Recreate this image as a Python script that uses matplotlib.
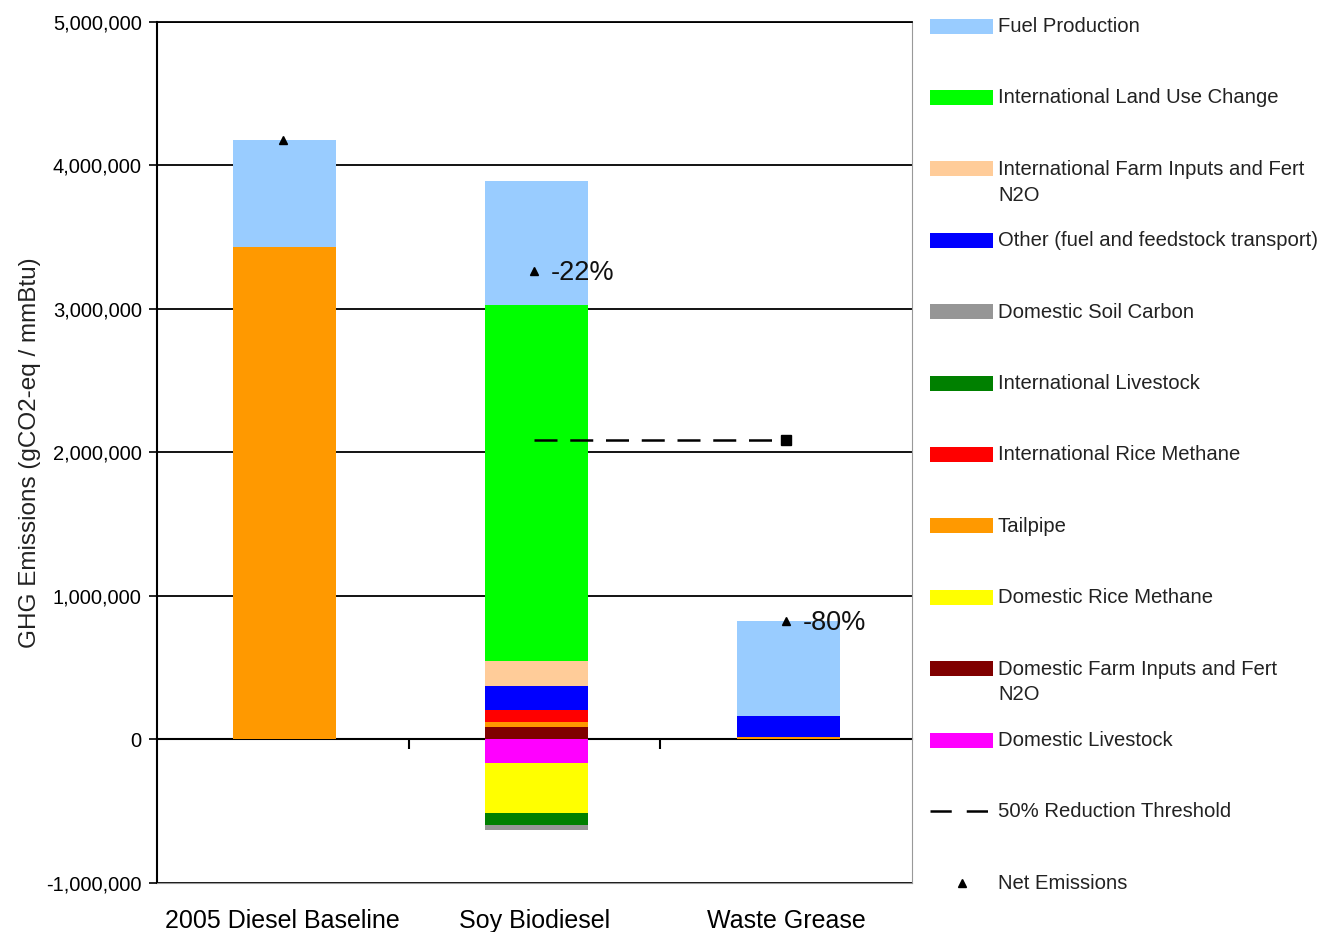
import numpy as np
import matplotlib
matplotlib.use("Agg")
import matplotlib.pyplot as plt
from matplotlib.patches import Rectangle
from matplotlib.lines import Line2D
from matplotlib.ticker import FuncFormatter

plt.rcParams['font.family'] = ['Liberation Sans', 'DejaVu Sans']

### data (gCO2-eq / mmBtu), series listed in stacking order
categories = ["2005 Diesel Baseline", "Soy Biodiesel", "Waste Grease"]
dom_livestock = [0, -162000, 0]
dom_farm = [0, 84000, 0]
dom_rice = [0, -350000, 0]
tailpipe = [3430000, 35000, 20000]
intl_rice = [0, 85000, 0]
intl_livestock = [0, -81000, 0]
dom_soil = [0, -35000, 0]
other = [0, 166000, 146000]
intl_farm = [0, 180000, 0]
intl_luc = [0, 2480000, 0]
fuel_prod = [745000, 864000, 662000]

series_names = ["Domestic Livestock", "Domestic Farm Inputs and Fert\nN2O",
                "Domestic Rice Methane", "Tailpipe", "International Rice Methane",
                "International Livestock", "Domestic Soil Carbon",
                "Other (fuel and feedstock transport)",
                "International Farm Inputs and Fert\nN2O",
                "International Land Use Change", "Fuel Production"]
series_vals = [dom_livestock, dom_farm, dom_rice, tailpipe, intl_rice,
               intl_livestock, dom_soil, other, intl_farm, intl_luc, fuel_prod]
series_cols = ["#FF00FF", "#800000", "#FFFF00", "#FF9900", "#FF0000",
               "#008000", "#969696", "#0000FF", "#FFCC99", "#00FF00", "#99CCFF"]

threshold_share = 0.5
yticks = [-1000000, 0, 1000000, 2000000, 3000000, 4000000, 5000000]

### chart
fig = plt.figure(figsize=(13.23, 9.32), dpi=100)
ax = fig.add_axes([0.11867, 0.05258, 0.57067, 0.92382])
x = np.arange(len(categories))
pos_bottom = np.zeros(len(categories))
neg_bottom = np.zeros(len(categories))
for vals, col in zip(series_vals, series_cols):
    v = np.array(vals, dtype=float)
    bottom = np.where(v >= 0, pos_bottom, neg_bottom)
    ax.bar(x + 0.008, v, width=0.41, bottom=bottom, color=col, zorder=3, linewidth=0)
    pos_bottom += np.where(v >= 0, v, 0)
    neg_bottom += np.where(v < 0, v, 0)

net = np.sum(np.array(series_vals, dtype=float), axis=0)
ax.plot(x, net, linestyle='none', marker='^', color='black', markersize=6, zorder=5)
for i in range(1, len(categories)):
    pct = net[i] / net[0] - 1
    ax.annotate("%d%%" % round(pct * 100), (x[i], net[i]), xytext=(12, -1.5),
                textcoords='offset points', va='center', ha='left', fontsize=19.5,
                color='#111111', zorder=6)

thr = threshold_share * net[0]
ax.plot(x[1:], [thr] * len(x[1:]), color='black', linestyle=(0, (9.2, 5.1)), linewidth=1.8,
        marker='s', markersize=6.5, markevery=[len(x[1:]) - 1], zorder=4)

ax.set_xlim(-0.5, 2.5)
ax.set_ylim(-1000000, 5000000)
ax.set_yticks(yticks)
ax.yaxis.set_major_formatter(FuncFormatter(lambda v, p: "{:,.0f}".format(v)))
ax.tick_params(axis='y', length=6, width=1.2, labelsize=14.5, pad=5, colors='black')
ax.set_xticks(x)
ax.set_xticklabels(categories, fontsize=18)
ax.tick_params(axis='x', length=0, pad=19)
ax.grid(axis='y', color='black', linewidth=1.3, zorder=1)
ax.set_axisbelow(True)
ax.set_ylabel("GHG Emissions (gCO2-eq / mmBtu)", fontsize=17.5, labelpad=4, color='#222222')
for s in ['right', 'bottom']:
    ax.spines[s].set_color('#999999')
ax.spines['top'].set_color('black')
ax.spines['top'].set_linewidth(1.3)
ax.spines['left'].set_color('black')
ax.spines['left'].set_linewidth(1.5)

# category axis drawn at zero
zero_frac = (0 - yticks[0]) / (yticks[-1] - yticks[0])
sec = ax.secondary_xaxis(zero_frac)
sec.set_xticks([0.5, 1.5])
sec.set_xticklabels([])
sec.tick_params(axis='x', direction='out', length=7, width=1.5, colors='black')
sec.spines['bottom'].set_color('black')
sec.spines['bottom'].set_linewidth(1.5)

### legend, drawn in pixel coordinates
lax = fig.add_axes([0, 0, 1, 1])
lax.set_xlim(0, 1323)
lax.set_ylim(932, 0)
lax.axis('off')
legend_names = series_names[::-1] + ["50% Reduction Threshold", "Net Emissions"]
legend_cols = series_cols[::-1]
y0, step = 26, 71.4
for i, name in enumerate(legend_names):
    yc = y0 + i * step
    if i < len(legend_cols):
        lax.add_patch(Rectangle((930, yc - 7.5), 63, 15, color=legend_cols[i], linewidth=0))
    elif name.startswith("50%"):
        lax.add_line(Line2D([930, 993], [yc, yc], color='black', linewidth=1.8,
                            linestyle=(0, (8.5, 6))))
    else:
        lax.plot([962], [yc], marker='^', color='black', markersize=6)
    lax.text(998, yc - 9, name, fontsize=14.6, va='top', ha='left', color='#222222',
             linespacing=1.45)

fig.savefig("out.png", dpi=100)
